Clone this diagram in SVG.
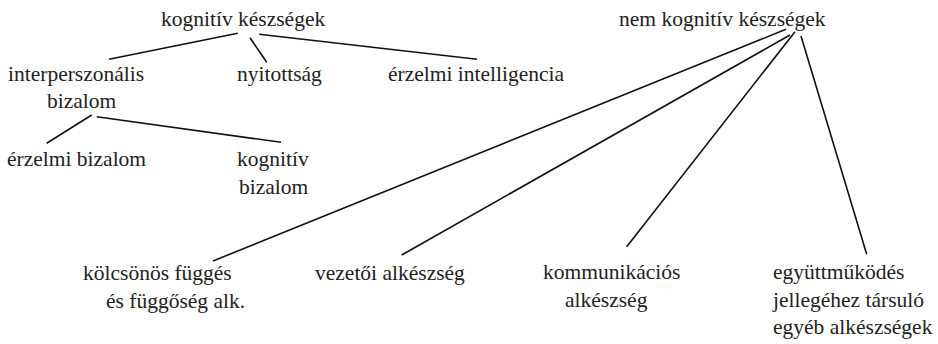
<svg xmlns="http://www.w3.org/2000/svg" width="938" height="344" viewBox="0 0 938 344">
<style>
text{font-family:"Liberation Serif","Times New Roman",serif;font-size:21.5px;fill:#222}
.c line{stroke:#111;stroke-width:1.6;fill:none}
</style>
<rect width="938" height="344" fill="#fff"/>
<g class="c" id="connectors">
<line x1="237.7" y1="33.3" x2="109" y2="59.3"/>
<line x1="250" y1="37.7" x2="266.7" y2="62.3"/>
<line x1="259.3" y1="34.3" x2="477" y2="59.3"/>
<line x1="91.7" y1="115" x2="46.7" y2="143.3"/>
<line x1="96.7" y1="116.7" x2="281" y2="142.3"/>
<line x1="786" y1="29.3" x2="213" y2="261"/>
<line x1="790" y1="35" x2="401.7" y2="255"/>
<line x1="795" y1="31.7" x2="626.7" y2="246.7"/>
<line x1="801" y1="36" x2="866.7" y2="254.3"/>
</g>
<g id="n-kognitiv"><text x="161" y="26">kognitív készségek</text></g>
<g id="n-nemkognitiv"><text x="619" y="26">nem kognitív készségek</text></g>
<g id="n-interperszonalis"><text x="8" y="81">interperszonális</text><text x="47" y="108">bizalom</text></g>
<g id="n-nyitottsag"><text x="237" y="81">nyitottság</text></g>
<g id="n-erzelmiint"><text x="388" y="81">érzelmi intelligencia</text></g>
<g id="n-erzelmibiz"><text x="7" y="166">érzelmi bizalom</text></g>
<g id="n-kognitivbiz"><text x="237" y="166">kognitív</text><text x="239" y="194">bizalom</text></g>
<g id="n-kolcsonos"><text x="83" y="280">kölcsönös függés</text><text x="106" y="308">és függőség alk.</text></g>
<g id="n-vezetoi"><text x="315" y="280">vezetői alkészség</text></g>
<g id="n-kommunikacios"><text x="543" y="279">kommunikációs</text><text x="565" y="306.5">alkészség</text></g>
<g id="n-egyuttmukodes"><text x="773" y="279">együttműködés</text><text x="773" y="306.5">jellegéhez társuló</text><text x="773" y="333.5">egyéb alkészségek</text></g>
</svg>
